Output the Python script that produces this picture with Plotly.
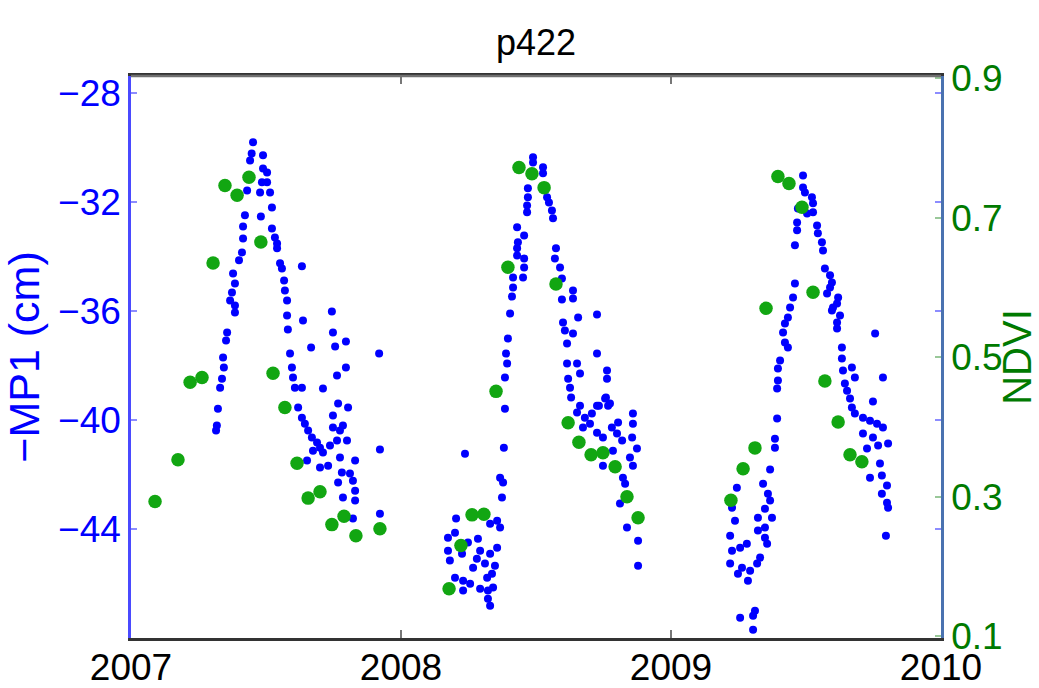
import plotly.graph_objects as go

# ---------------- data ----------------
# -MP1 (cm), blue, left axis : decimal year
mp1_year = [
    # 2007 season
    2007.315, 2007.318, 2007.322, 2007.330, 2007.337, 2007.344, 2007.341, 2007.352, 2007.356,
    2007.367, 2007.374, 2007.385, 2007.378, 2007.385, 2007.385, 2007.400, 2007.411, 2007.415,
    2007.415, 2007.422, 2007.430, 2007.441, 2007.447, 2007.452, 2007.478, 2007.481, 2007.485,
    2007.489, 2007.489, 2007.504, 2007.504, 2007.515, 2007.522, 2007.522, 2007.533, 2007.541,
    2007.541, 2007.552, 2007.559, 2007.567, 2007.570, 2007.578, 2007.578, 2007.581, 2007.589,
    2007.596, 2007.600, 2007.607, 2007.619, 2007.633, 2007.633, 2007.633, 2007.637, 2007.644,
    2007.652, 2007.656, 2007.667, 2007.670, 2007.674, 2007.689, 2007.700, 2007.700, 2007.711,
    2007.711, 2007.730, 2007.737, 2007.744, 2007.748, 2007.748, 2007.748, 2007.756, 2007.763,
    2007.763, 2007.767, 2007.774, 2007.774, 2007.781, 2007.785, 2007.785, 2007.796, 2007.796,
    2007.800, 2007.804, 2007.811, 2007.822, 2007.830, 2007.830, 2007.830, 2007.822, 2007.767,
    2007.919, 2007.922, 2007.922,
    # 2008 season
    2008.489, 2008.489, 2008.526, 2008.526, 2008.470, 2008.470, 2008.467, 2008.467, 2008.541,
    2008.548, 2008.559, 2008.563, 2008.430, 2008.456, 2008.433, 2008.430, 2008.430, 2008.456,
    2008.456, 2008.452, 2008.415, 2008.415, 2008.411, 2008.404, 2008.574, 2008.570, 2008.589,
    2008.596, 2008.596, 2008.637, 2008.637, 2008.656, 2008.726, 2008.600, 2008.607, 2008.615,
    2008.637, 2008.726, 2008.396, 2008.389, 2008.393, 2008.385, 2008.615, 2008.652, 2008.663,
    2008.619, 2008.626, 2008.630, 2008.663, 2008.763, 2008.763, 2008.759, 2008.774, 2008.733,
    2008.385, 2008.381, 2008.237, 2008.367, 2008.378, 2008.374, 2008.356, 2008.367, 2008.330,
    2008.204, 2008.200, 2008.174, 2008.174, 2008.181, 2008.226, 2008.248, 2008.285, 2008.293,
    2008.281, 2008.267, 2008.311, 2008.330, 2008.356, 2008.348, 2008.337, 2008.319, 2008.200,
    2008.230, 2008.256, 2008.230, 2008.293, 2008.322, 2008.341, 2008.322, 2008.330,
    2008.652, 2008.681, 2008.707, 2008.726, 2008.756, 2008.767, 2008.674, 2008.700, 2008.726,
    2008.748, 2008.781, 2008.804, 2008.800, 2008.819, 2008.859, 2008.859, 2008.856, 2008.874,
    2008.848, 2008.859, 2008.748, 2008.785, 2008.822, 2008.830, 2008.811, 2008.837, 2008.878,
    2008.878,
    # 2009 season
    2009.489, 2009.489, 2009.496, 2009.522, 2009.526, 2009.526, 2009.504, 2009.470, 2009.467,
    2009.467, 2009.459, 2009.541, 2009.544, 2009.559, 2009.563, 2009.570, 2009.589, 2009.596,
    2009.589, 2009.578, 2009.619, 2009.615, 2009.600, 2009.596, 2009.626, 2009.615, 2009.615,
    2009.459, 2009.452, 2009.441, 2009.433, 2009.422, 2009.415, 2009.422, 2009.433, 2009.404,
    2009.396, 2009.396, 2009.393, 2009.393, 2009.385, 2009.385, 2009.756, 2009.785, 2009.633,
    2009.633, 2009.637, 2009.670, 2009.681, 2009.644, 2009.652, 2009.663, 2009.670, 2009.681,
    2009.711, 2009.737, 2009.763, 2009.785, 2009.748, 2009.711, 2009.748, 2009.804, 2009.767,
    2009.726, 2009.774, 2009.781, 2009.737, 2009.800, 2009.781, 2009.800, 2009.804, 2009.796,
    2009.367, 2009.341, 2009.359, 2009.367, 2009.348, 2009.322, 2009.374, 2009.348, 2009.322,
    2009.348, 2009.356, 2009.330, 2009.319, 2009.293, 2009.285, 2009.263, 2009.281, 2009.256,
    2009.226, 2009.219, 2009.237, 2009.219, 2009.244, 2009.226, 2009.248, 2009.311, 2009.304,
    2009.256, 2009.304,
]
mp1_cm = [
    # 2007 season
    -40.39, -40.21, -39.59, -38.82, -38.49, -38.08, -37.71, -37.09, -36.80,
    -35.62, -35.33, -35.00, -34.63, -35.81, -36.06, -34.15, -33.86, -33.35,
    -32.91, -32.50, -31.59, -30.49, -30.23, -29.82, -31.66, -32.54, -31.29,
    -30.78, -30.30, -30.93, -31.29, -31.66, -32.21, -32.98, -33.31, -33.53,
    -33.71, -34.26, -34.45, -34.89, -35.26, -35.62, -36.17, -36.69, -37.57,
    -38.08, -38.45, -38.82, -39.55, -38.82, -39.92, -34.37, -36.36, -40.14,
    -41.49, -40.39, -37.35, -40.65, -41.13, -40.83, -41.02, -41.75, -41.20,
    -38.85, -41.68, -40.94, -36.03, -36.80, -40.28, -39.84, -37.31, -38.37,
    -40.76, -39.40, -40.39, -41.38, -41.93, -40.21, -42.85, -37.13, -38.08,
    -40.76, -39.55, -41.97, -42.23, -41.49, -42.60, -42.96, -43.62, -42.30,
    -37.57, -41.09, -43.44,
    # 2008 season
    -30.37, -30.56, -30.74, -30.96, -31.51, -31.84, -32.14, -32.39, -31.84,
    -32.03, -32.32, -32.61, -32.94, -33.24, -33.49, -33.71, -33.97, -34.08,
    -34.41, -34.78, -34.78, -35.15, -35.48, -36.10, -33.71, -34.08, -34.41,
    -34.82, -35.59, -35.26, -35.55, -36.25, -36.14, -36.43, -36.72, -37.20,
    -36.83, -37.57, -37.02, -37.57, -37.93, -38.45, -37.93, -37.93, -38.30,
    -38.49, -38.82, -39.18, -39.48, -38.19, -38.49, -39.18, -39.40, -39.48,
    -39.59, -41.02, -41.24, -42.12, -42.30, -42.85, -43.70, -43.95, -43.81,
    -43.62, -44.14, -44.32, -44.80, -45.16, -44.91, -44.50, -44.36, -44.80,
    -45.09, -45.42, -45.27, -44.91, -44.69, -45.35, -45.64, -45.79, -45.79,
    -45.90, -46.01, -46.26, -46.19, -46.26, -46.15, -46.56, -46.82,
    -39.73, -39.92, -39.77, -39.48, -39.22, -39.48, -40.28, -40.14, -40.47,
    -40.65, -40.28, -40.10, -40.50, -40.76, -39.77, -40.14, -40.65, -41.05,
    -41.38, -41.68, -41.68, -41.13, -42.12, -42.34, -43.07, -43.95, -44.43,
    -45.35,
    # 2009 season
    -31.04, -31.48, -31.66, -31.84, -32.06, -32.39, -32.43, -32.25, -32.76,
    -33.05, -33.60, -32.87, -33.16, -33.49, -33.79, -34.45, -34.70, -34.96,
    -35.15, -35.37, -35.51, -35.73, -35.88, -35.99, -36.17, -36.43, -36.65,
    -35.00, -35.51, -35.88, -36.25, -36.47, -36.80, -37.16, -37.35, -37.82,
    -38.12, -38.56, -38.85, -39.95, -40.69, -41.02, -36.83, -38.45, -37.35,
    -37.75, -38.19, -38.08, -38.45, -38.67, -38.93, -39.22, -39.55, -39.77,
    -39.92, -40.03, -40.14, -40.28, -39.33, -40.50, -40.65, -40.87, -40.94,
    -41.05, -41.60, -42.04, -42.12, -42.41, -42.71, -43.04, -43.22, -44.25,
    -41.82, -42.34, -42.71, -42.96, -43.26, -43.59, -43.59, -43.95, -44.06,
    -44.32, -44.54, -45.05, -45.27, -45.53, -45.90, -45.42, -44.54, -44.69,
    -44.80, -45.27, -43.70, -44.25, -42.49, -43.22, -45.64, -47.00, -47.18,
    -47.26, -47.70,
]

# NDVI, green, right axis : decimal year
ndvi_year = [
    2007.089, 2007.174, 2007.219, 2007.263, 2007.304, 2007.348, 2007.393, 2007.437, 2007.481,
    2007.526, 2007.570, 2007.615, 2007.656, 2007.700, 2007.744, 2007.789, 2007.833, 2007.922,
    2008.178, 2008.222, 2008.263, 2008.307, 2008.352, 2008.396, 2008.437, 2008.485, 2008.530,
    2008.574, 2008.619, 2008.659, 2008.704, 2008.748, 2008.793, 2008.837, 2008.878,
    2009.222, 2009.267, 2009.311, 2009.352, 2009.396, 2009.437, 2009.485, 2009.526, 2009.570,
    2009.619, 2009.663, 2009.707,
]
ndvi_val = [
    0.293, 0.353, 0.464, 0.471, 0.635, 0.746, 0.732, 0.758, 0.665,
    0.477, 0.428, 0.348, 0.298, 0.307, 0.260, 0.272, 0.244, 0.254,
    0.168, 0.230, 0.274, 0.275, 0.451, 0.629, 0.772, 0.763, 0.743,
    0.605, 0.406, 0.378, 0.360, 0.363, 0.343, 0.300, 0.270,
    0.295, 0.340, 0.370, 0.570, 0.759, 0.749, 0.715, 0.593, 0.466,
    0.407, 0.360, 0.350,
]

x_ticks = [2007, 2008, 2009, 2010]
x_tick_labels = ["2007", "2008", "2009", "2010"]
mp1_ticks = [-44, -40, -36, -32, -28]
ndvi_ticks = [0.1, 0.3, 0.5, 0.7, 0.9]
ndvi_tick_labels = ["0.1", "0.3", "0.5", "0.7", "0.9"]

# ---------------- figure ----------------
FONT = "Liberation Sans, Arial, Helvetica, sans-serif"
BLUE = "#0000ff"
GREEN_DOT = "#12a612"
GREEN_TXT = "#007a00"

fig = go.Figure()
fig.add_trace(go.Scatter(
    x=mp1_year, y=mp1_cm, mode="markers", yaxis="y", showlegend=False,
    marker=dict(color=BLUE, size=8, symbol="circle", line=dict(width=0)),
))
fig.add_trace(go.Scatter(
    x=ndvi_year, y=ndvi_val, mode="markers", yaxis="y2", showlegend=False,
    marker=dict(color=GREEN_DOT, size=13.5, symbol="circle", line=dict(width=0)),
))

fig.update_layout(
    width=1039, height=688,
    margin=dict(l=131, r=98, t=76, b=50, autoexpand=False),
    paper_bgcolor="white", plot_bgcolor="white",
    font=dict(family=FONT, size=36, color="black"),
    title=dict(text="p422", x=0.5, xref="paper", y=1 - 42 / 688, yref="container",
               xanchor="center", yanchor="middle",
               font=dict(family=FONT, size=36, color="black")),
    xaxis=dict(
        range=[2007, 2010], tickvals=x_ticks, ticktext=x_tick_labels,
        showgrid=False, zeroline=False, automargin=False,
        ticks="inside", ticklen=8, tickwidth=1.5, tickcolor="#777777",
        showline=True, linecolor="#333333", linewidth=2.5, mirror="ticks",
        tickfont=dict(family=FONT, size=37, color="black"),
        ticklabelstandoff=-5,
    ),
    yaxis=dict(
        range=[-48.0, -27.39], tickvals=mp1_ticks,
        showgrid=False, zeroline=False, automargin=False,
        ticks="inside", ticklen=6, tickwidth=1.5, tickcolor="#8c8cff",
        showline=True, linecolor="#4a4aff", linewidth=2.5, mirror="ticks",
        tickfont=dict(family=FONT, size=37, color=BLUE),
        title=dict(text="\u2212MP1 (cm)", font=dict(family=FONT, size=43, color=BLUE), standoff=14),
    ),
    yaxis2=dict(
        overlaying="y", side="right",
        range=[0.0975, 0.903], tickvals=ndvi_ticks, ticktext=ndvi_tick_labels,
        showgrid=False, zeroline=False, automargin=False,
        ticks="inside", ticklen=6, tickwidth=1.5, tickcolor="#99c899",
        showline=True, linecolor="#4a72b0", linewidth=2.5,
        tickfont=dict(family=FONT, size=37, color=GREEN_TXT),
        title=dict(text="NDVI", font=dict(family=FONT, size=40, color=GREEN_TXT), standoff=10),
    ),
    shapes=[
        dict(type="line", xref="paper", yref="paper", x0=0, x1=1, y0=1, y1=1,
             line=dict(color="#707070", width=2.5), layer="above"),
    ],
)

fig.write_html("out.html", config={"displayModeBar": False},
               post_script="document.body.style.margin='0';document.body.style.overflow='hidden';")
